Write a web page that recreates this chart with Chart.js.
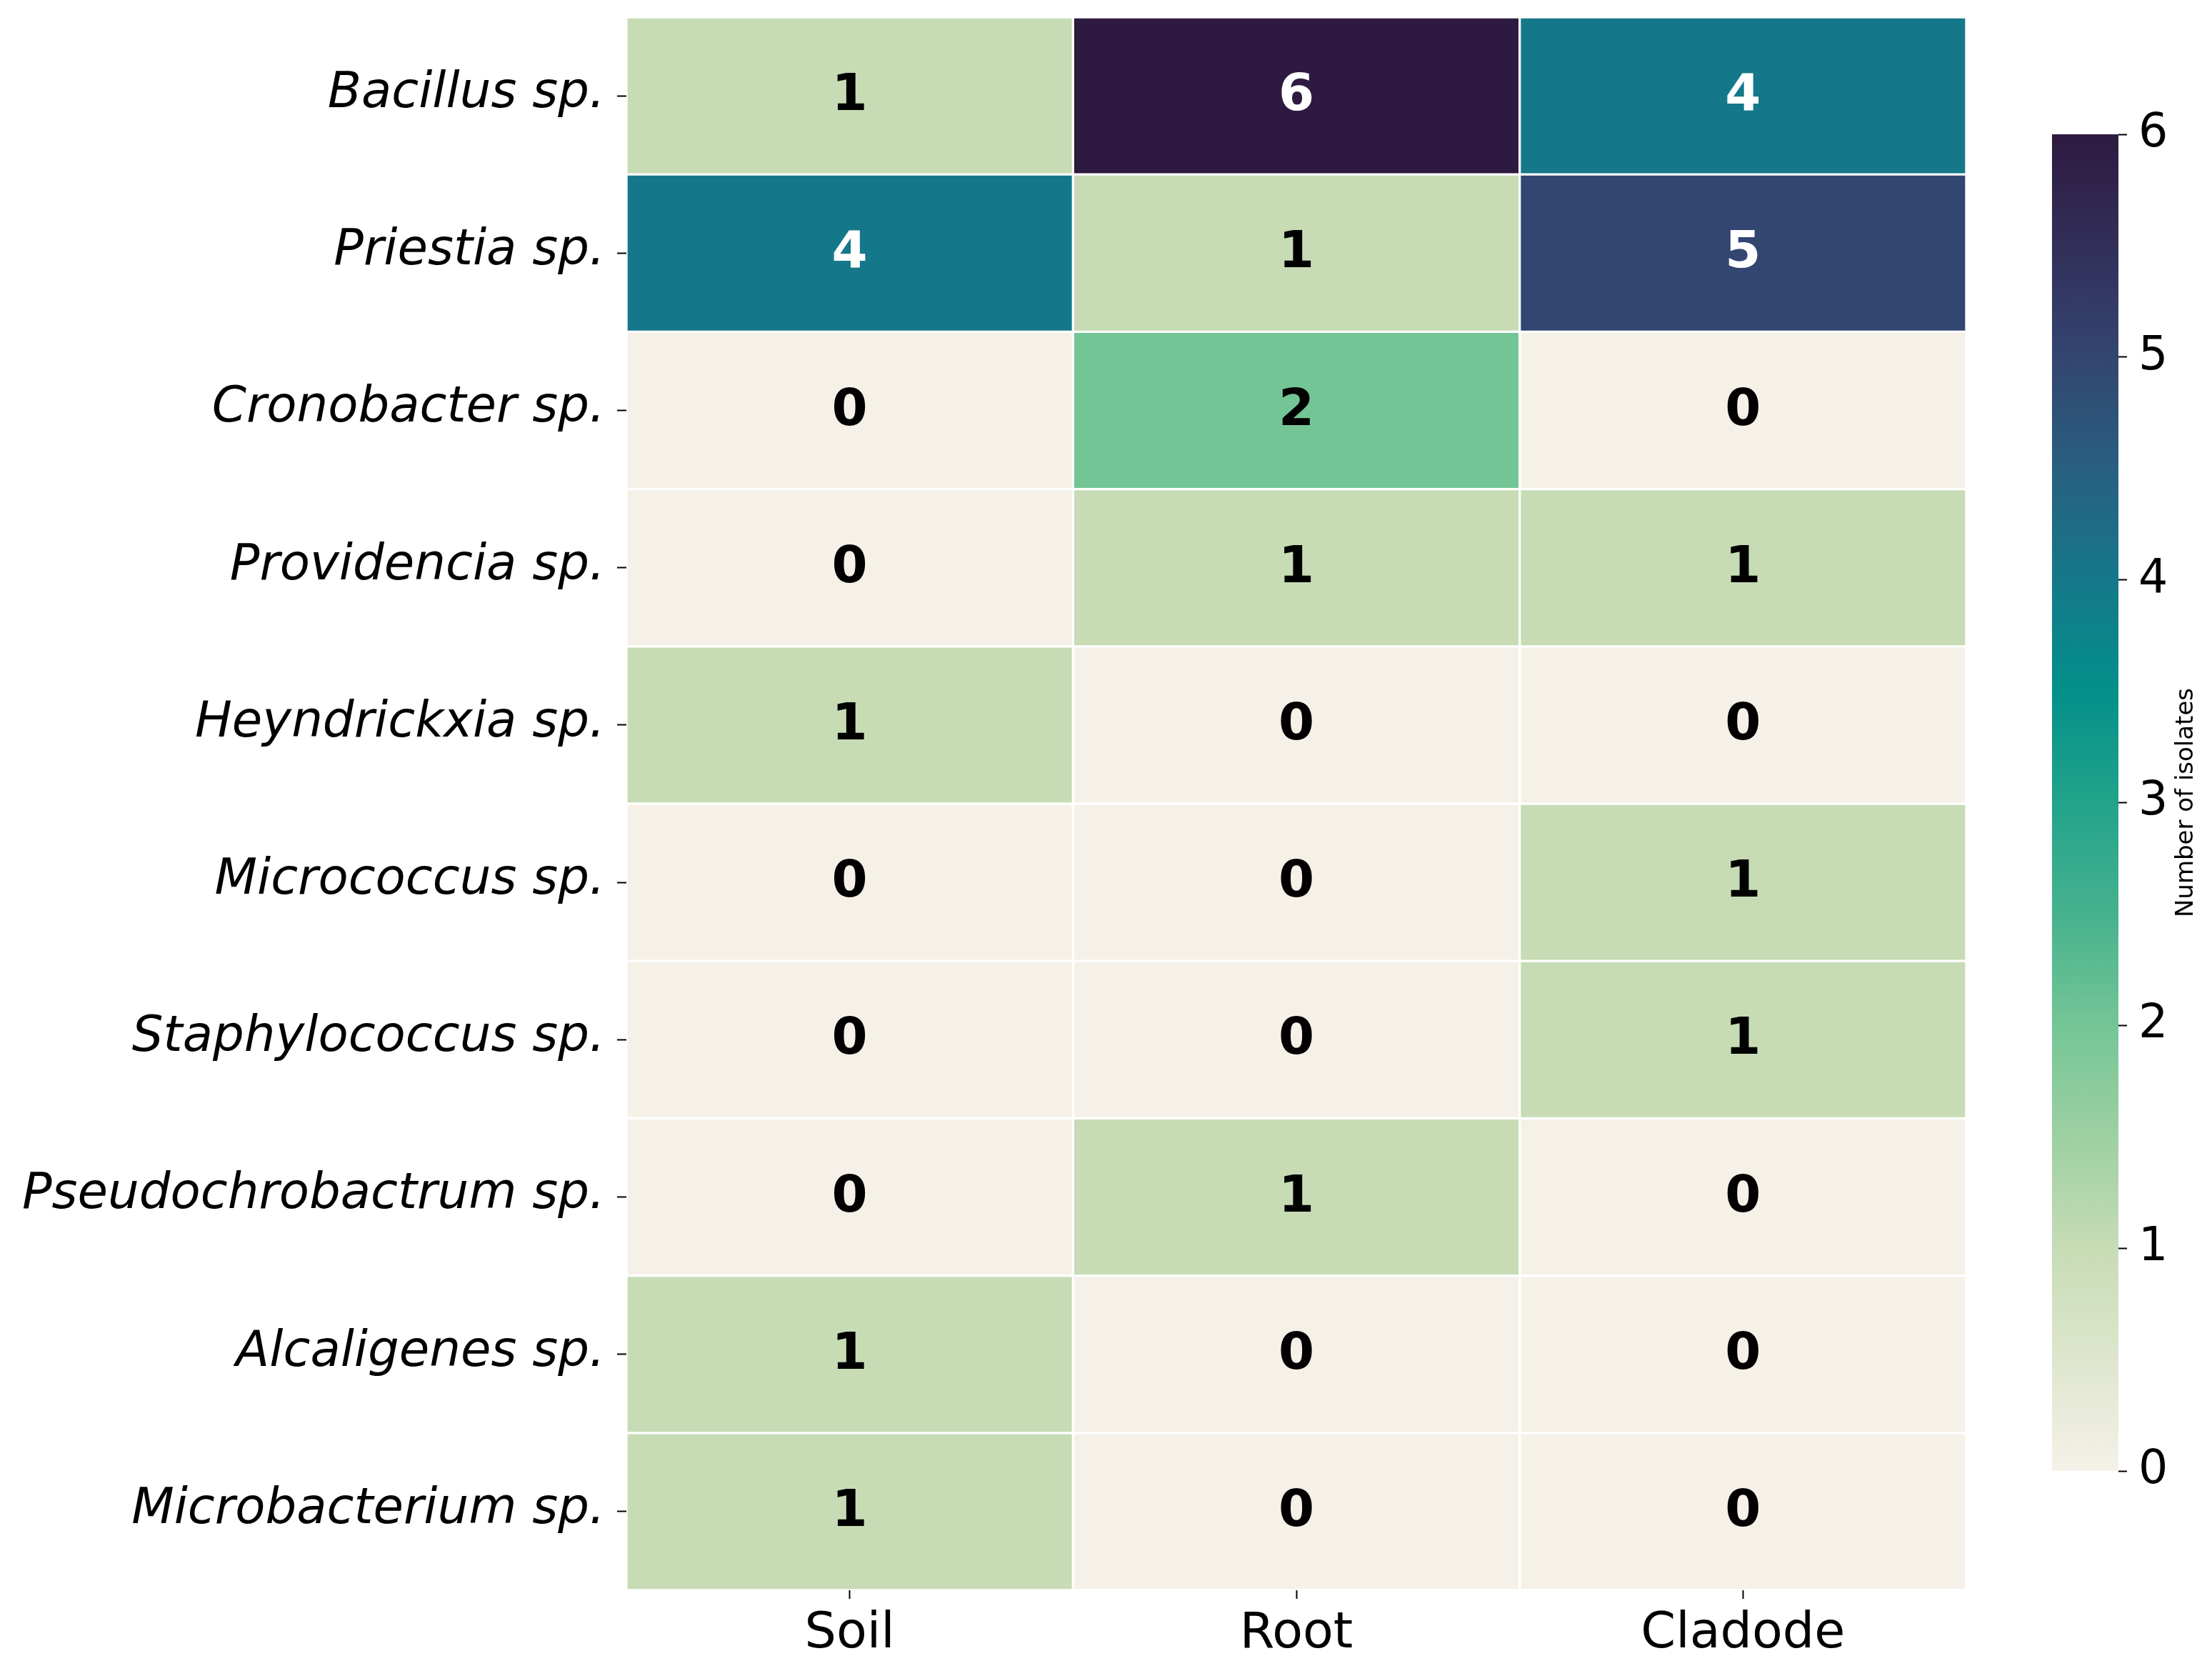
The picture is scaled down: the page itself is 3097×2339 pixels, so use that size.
<!DOCTYPE html>
<html>
<head>
<meta charset="utf-8">
<title>Isolates heatmap</title>
<script src="https://cdn.jsdelivr.net/npm/chart.js@4.4.1/dist/chart.umd.min.js"></script>
<style>
  html, body { margin: 0; padding: 0; background: #fff; }
  #wrap { position: relative; width: 3097px; height: 2339px; }
  #heat { position: absolute; left: 0; top: 0; }
  #cbar { position: absolute; left: 2800px; top: 0; }
</style>
</head>
<body>
<div id="wrap">
  <canvas id="heat" width="2800" height="2339"></canvas>
  <canvas id="cbar" width="297" height="2339"></canvas>
</div>
<script>
// Datos del heatmap
var bacteria = ['Bacillus sp.', 'Priestia sp.', 'Cronobacter sp.', 'Providencia sp.', 'Heyndrickxia sp.',
    'Micrococcus sp.', 'Staphylococcus sp.', 'Pseudochrobactrum sp.', 'Alcaligenes sp.', 'Microbacterium sp.'];
var sources = ['Soil', 'Root', 'Cladode'];
var soilCounts = [1, 4, 0, 0, 1, 0, 0, 0, 1, 1];
var rootCounts = [6, 1, 2, 1, 0, 0, 0, 1, 0, 0];
var cladodeCounts = [4, 5, 0, 1, 0, 1, 1, 0, 0, 0];
var colorbarTicks = [0, 1, 2, 3, 4, 5, 6];

// Paleta: crema -> verde -> teal -> morado oscuro
var cmapStops = [
    [0, '#F5F1E8'], [0.5, '#DEE6CD'], [1, '#C7DCB5'], [1.5, '#9DD0A2'], [2, '#74C595'],
    [2.5, '#46B28E'], [3, '#22A38B'], [3.5, '#03908A'], [4, '#15788A'], [4.5, '#285F80'],
    [5, '#334571'], [5.5, '#322F59'], [6, '#2E1A40']
];
var vmin = colorbarTicks[0];
var vmax = colorbarTicks[colorbarTicks.length - 1];

function hexToRgb(h) {
    return [parseInt(h.substr(1, 2), 16), parseInt(h.substr(3, 2), 16), parseInt(h.substr(5, 2), 16)];
}
function cmap(v) {
    for (var i = 1; i < cmapStops.length; i++) {
        if (v <= cmapStops[i][0]) {
            var a = cmapStops[i - 1], b = cmapStops[i];
            var t = (v - a[0]) / (b[0] - a[0]);
            var ca = hexToRgb(a[1]), cb = hexToRgb(b[1]);
            var c = ca.map(function (x, k) { return Math.round(x + (cb[k] - x) * t); });
            return 'rgb(' + c.join(',') + ')';
        }
    }
    return cmapStops[cmapStops.length - 1][1];
}

var FONT = 'DejaVu Sans';
var columnCounts = [soilCounts, rootCounts, cladodeCounts];

// cada columna es un dataset apilado; cada celda mide 1 en el eje x
var heatDatasets = sources.map(function (name, c) {
    return {
        label: name,
        data: columnCounts[c].map(function () { return 1; }),
        counts: columnCounts[c],
        backgroundColor: columnCounts[c].map(cmap),
        borderColor: '#ffffff',
        borderWidth: 2,
        borderSkipped: false,
        barPercentage: 1,
        categoryPercentage: 1
    };
});

// numeros dentro de las celdas
var cellLabels = {
    id: 'cellLabels',
    afterDatasetsDraw: function (chart) {
        var ctx = chart.ctx;
        ctx.save();
        ctx.font = 'bold 72px "' + FONT + '"';
        ctx.textAlign = 'center';
        ctx.textBaseline = 'alphabetic';
        chart.data.datasets.forEach(function (ds, di) {
            chart.getDatasetMeta(di).data.forEach(function (bar, i) {
                var v = ds.counts[i];
                ctx.fillStyle = v >= 4 ? '#ffffff' : '#000000';
                ctx.fillText(String(v), (bar.x + bar.base) / 2, bar.y + 20);
            });
        });
        ctx.restore();
    }
};

var heatChart = new Chart(document.getElementById('heat'), {
    type: 'bar',
    data: { labels: bacteria, datasets: heatDatasets },
    plugins: [cellLabels],
    options: {
        indexAxis: 'y',
        responsive: false,
        animation: false,
        devicePixelRatio: 1,
        layout: { padding: { left: 0, top: 24, right: 47, bottom: 0 } },
        plugins: { legend: { display: false }, tooltip: { enabled: false } },
        scales: {
            x: {
                type: 'linear',
                stacked: true,
                min: 0,
                max: sources.length,
                afterBuildTicks: function (scale) {
                    scale.ticks = sources.map(function (s, i) { return { value: i + 0.5 }; });
                },
                afterFit: function (scale) {
                    scale.height = 113;
                    scale.paddingLeft = 0;
                    scale.paddingRight = 0;
                },
                border: { display: false },
                grid: { drawOnChartArea: false, tickLength: 12, tickWidth: 2, tickColor: '#000' },
                ticks: {
                    autoSkip: false,
                    maxRotation: 0,
                    padding: 8,
                    color: '#000',
                    font: { family: FONT, size: 70 },
                    callback: function (value) { return sources[Math.floor(value)]; }
                }
            },
            y: {
                type: 'category',
                stacked: true,
                afterFit: function (scale) {
                    scale.width = 877;
                    scale.paddingTop = 0;
                    scale.paddingBottom = 0;
                },
                border: { display: false },
                grid: { offset: false, drawOnChartArea: false, tickLength: 13, tickWidth: 2, tickColor: '#000' },
                ticks: {
                    autoSkip: false,
                    padding: 17,
                    labelOffset: -2,
                    color: '#000',
                    font: { family: FONT, size: 69, style: 'italic' }
                }
            }
        }
    }
});

// barra de color
var cbarTitle = {
    id: 'cbarTitle',
    afterDraw: function (chart) {
        var ctx = chart.ctx;
        var y = chart.scales.y;
        ctx.save();
        ctx.translate(270, (y.top + y.bottom) / 2);
        ctx.rotate(-Math.PI / 2);
        ctx.font = '34px "' + FONT + '"';
        ctx.fillStyle = '#000';
        ctx.textAlign = 'center';
        ctx.textBaseline = 'alphabetic';
        ctx.fillText('Number of isolates', 0, 0);
        ctx.restore();
    }
};

var cbarChart = new Chart(document.getElementById('cbar'), {
    type: 'bar',
    data: {
        labels: ['Number of isolates'],
        datasets: [{
            data: [[vmin, vmax]],
            backgroundColor: function (context) {
                var chart = context.chart;
                var ys = chart.scales.y;
                if (!ys || !chart.chartArea) return cmap(vmax);
                var g = chart.ctx.createLinearGradient(0, ys.getPixelForValue(vmin), 0, ys.getPixelForValue(vmax));
                cmapStops.forEach(function (s) { g.addColorStop((s[0] - vmin) / (vmax - vmin), s[1]); });
                return g;
            },
            borderWidth: 0,
            barPercentage: 1,
            categoryPercentage: 1
        }]
    },
    plugins: [cbarTitle],
    options: {
        responsive: false,
        animation: false,
        devicePixelRatio: 1,
        layout: { padding: { left: 73, top: 188, right: 0, bottom: 280 } },
        plugins: { legend: { display: false }, tooltip: { enabled: false } },
        scales: {
            x: { display: false },
            y: {
                position: 'right',
                min: vmin,
                max: vmax,
                afterBuildTicks: function (scale) {
                    scale.ticks = colorbarTicks.map(function (v) { return { value: v }; });
                },
                afterFit: function (scale) {
                    scale.width = 131;
                    scale.paddingTop = 0;
                    scale.paddingBottom = 0;
                },
                border: { display: false },
                grid: { drawOnChartArea: false, tickLength: 12, tickWidth: 2, tickColor: '#000' },
                ticks: {
                    padding: 16,
                    color: '#000',
                    font: { family: FONT, size: 65 }
                }
            }
        }
    }
});
</script>
</body>
</html>
